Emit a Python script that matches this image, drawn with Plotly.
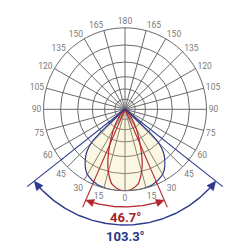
import numpy as np
import plotly.graph_objects as go

# ---------------- data ----------------
angle_ticks = list(range(0, 360, 15))
angle_ticktext = [str(a if a <= 180 else 360 - a) for a in angle_ticks]
ring_values = [0.125, 0.25, 0.40, 0.58, 0.79]

# wide distribution (blue), angle from nadir (deg) -> relative intensity
blue_theta = [0, 10, 20, 28.6, 33, 36.6, 40, 42, 44, 45.5, 46.5, 47.2, 47.8, 48.5]
blue_r = [1.0, 1.0, 0.985, 0.935, 0.885, 0.82, 0.75, 0.70, 0.63, 0.56, 0.45, 0.30, 0.15, 0.0]

# narrow distribution (red)
red_theta = [0, 4, 7.4, 10, 12, 15, 17.8, 20, 22.8, 26, 29.5, 33, 37, 41, 44, 47]
red_r = [1.0, 0.99, 0.96, 0.93, 0.88, 0.79, 0.69, 0.60, 0.49, 0.38, 0.29, 0.21, 0.13, 0.07, 0.03, 0.0]

red_beam = 46.7
blue_beam = 103.3

# ---------------- style / layout constants ----------------
W = H = 250
R_PX = 81.5
CX, CY = 125.0, 109.3
RED = "#B3242C"
RED_TXT = "#A21F26"
BLUE = "#2E3A8C"
BLUE_TXT = "#263887"
GRID = "#6a6a6a"
FILL = "rgba(240,222,140,0.24)"


def mirror(theta, r):
    th = [-t for t in theta[::-1]] + theta[1:]
    rr = r[::-1] + r[1:]
    return th, rr


fig = go.Figure()

# ---------- cartesian overlay (same scale as polar: 1 unit = R_PX px) ----------
def pol2xy(rad, ang_deg):
    a = np.radians(ang_deg)
    return -rad * np.sin(a), -rad * np.cos(a)


def arrow_tri(P, T, L, hw):
    T = np.array(T) / np.linalg.norm(T)
    N = np.array([-T[1], T[0]])
    B = np.array(P) - L * T
    pts = [P, B + hw * N, B - hw * N, P]
    return [p[0] for p in pts], [p[1] for p in pts], B


def beam_group(half, r_end, arc_cy, arc_R, color, L, hw, lw):
    for s in (-1, 1):
        ang = s * half
        x0, y0 = pol2xy(0.97, ang)
        x1, y1 = pol2xy(r_end, ang)
        fig.add_trace(go.Scatter(x=[x0, x1], y=[y0, y1], mode="lines",
                                 line=dict(color=color, width=1.1), hoverinfo="skip"))
    a = np.radians(half)
    c = np.cos(a)
    t = (-2 * arc_cy * c + np.sqrt((2 * arc_cy * c) ** 2 - 4 * (arc_cy ** 2 - arc_R ** 2))) / 2
    P = np.array([-t * np.sin(a), -t * c])
    phi = np.arctan2(-P[0], -(P[1] - arc_cy))
    for s in (-1, 1):
        Ps = np.array([s * P[0], P[1]])
        T = (s * -np.cos(phi), np.sin(phi))
        tx, ty, B = arrow_tri(Ps, T, L, hw)
        fig.add_trace(go.Scatter(x=tx, y=ty, mode="lines", fill="toself", fillcolor=color,
                                 line=dict(color=color, width=0.5), hoverinfo="skip"))
    phi_b = phi - L / arc_R
    ph = np.linspace(-phi_b, phi_b, 120)
    fig.add_trace(go.Scatter(x=-arc_R * np.sin(ph), y=arc_cy - arc_R * np.cos(ph), mode="lines",
                             line=dict(color=color, width=lw), hoverinfo="skip"))


beam_group(red_beam / 2, 1.31, 0.25, 1.448, RED, 0.10, 0.045, 1.4)
beam_group(blue_beam / 2, 1.53, 0.0, 1.42, BLUE, 0.11, 0.05, 1.4)

# ---------- polar part ----------
bt, br = mirror(blue_theta, blue_r)
fig.add_trace(go.Scatterpolar(r=br, theta=bt, mode="lines", fill="toself", fillcolor=FILL,
                              line=dict(color=BLUE, width=1.2, shape="spline", smoothing=0.8),
                              hoverinfo="skip"))
rt, rr = mirror(red_theta, red_r)
fig.add_trace(go.Scatterpolar(r=rr, theta=rt, mode="lines",
                              line=dict(color=RED, width=1.2, shape="spline", smoothing=0.8),
                              hoverinfo="skip"))
for half, color in ((red_beam / 2, RED), (blue_beam / 2, BLUE)):
    for s in (-1, 1):
        fig.add_trace(go.Scatterpolar(r=[0, 1], theta=[s * half, s * half], mode="lines",
                                      line=dict(color=color, width=1.1), hoverinfo="skip"))

dx = R_PX / W
dy = R_PX / H
fig.update_layout(
    width=W, height=H, margin=dict(l=0, r=0, t=0, b=0),
    paper_bgcolor="white", plot_bgcolor="white", showlegend=False,
    xaxis=dict(range=[-CX / R_PX, (W - CX) / R_PX], visible=False, fixedrange=True),
    yaxis=dict(range=[(CY - H) / R_PX, CY / R_PX], visible=False, fixedrange=True),
    polar=dict(
        domain=dict(x=[CX / W - dx, CX / W + dx], y=[1 - CY / H - dy, 1 - CY / H + dy]),
        bgcolor="rgba(0,0,0,0)",
        angularaxis=dict(rotation=-90, direction="counterclockwise",
                         tickmode="array", tickvals=angle_ticks, ticktext=angle_ticktext,
                         showgrid=True, gridcolor=GRID, gridwidth=0.8,
                         showline=True, linecolor=GRID, linewidth=1, ticks="",
                         tickfont=dict(family="Roboto", size=8.5, color="#7a7a7a")),
        radialaxis=dict(range=[0, 1], tickmode="array", tickvals=ring_values,
                        showticklabels=False, ticks="", showline=False,
                        gridcolor=GRID, gridwidth=0.8),
    ),
    annotations=[
        dict(x=0.5, y=1 - 217 / H, xref="paper", yref="paper", text=f"<b>{red_beam}°</b>",
             xanchor="center", yanchor="middle",
             showarrow=False, font=dict(family="Roboto", size=13, color=RED_TXT)),
        dict(x=0.5, y=1 - 236.5 / H, xref="paper", yref="paper", text=f"<b>{blue_beam}°</b>",
             xanchor="center", yanchor="middle",
             showarrow=False, font=dict(family="Roboto", size=13, color=BLUE_TXT)),
    ],
)

fig.write_html("out.html")
